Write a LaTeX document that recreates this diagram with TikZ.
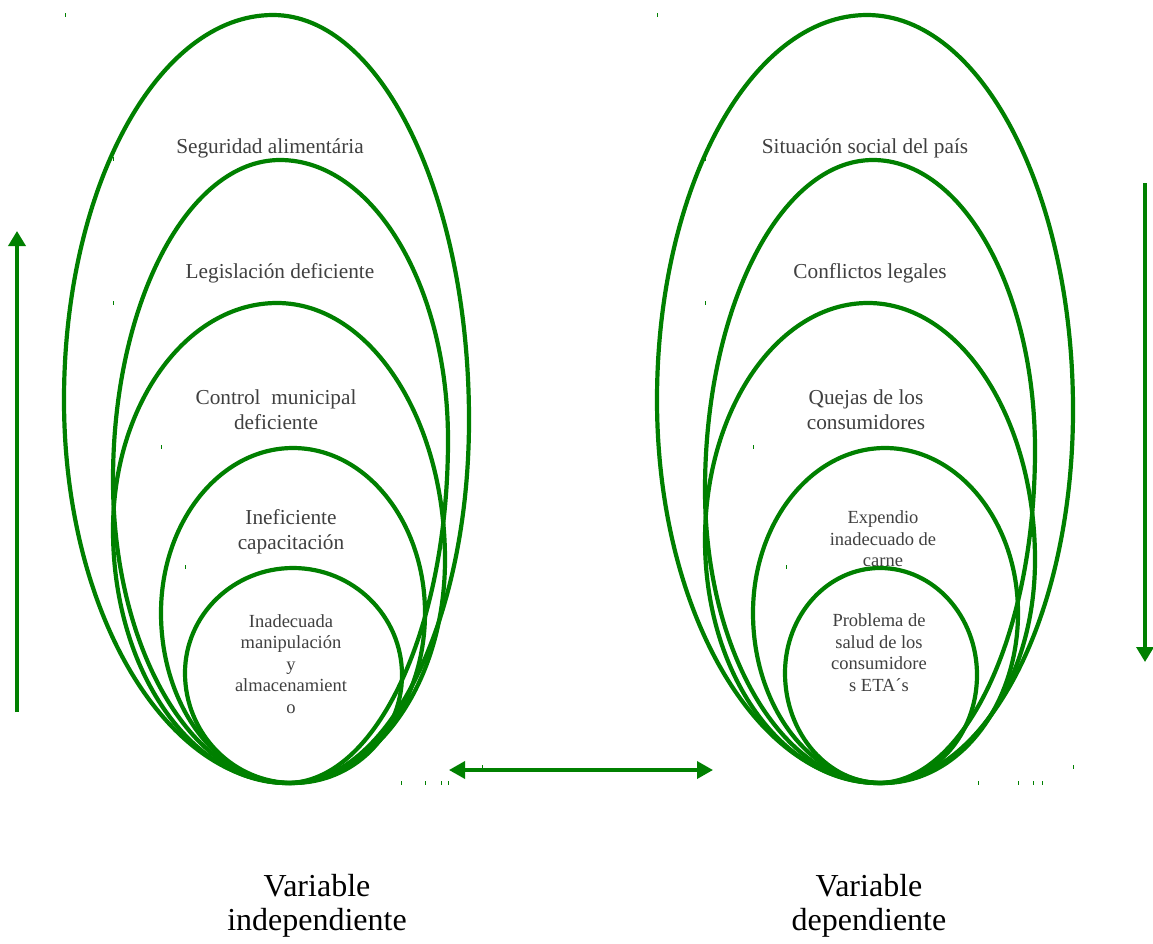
\documentclass[tikz,border=0pt]{standalone}
\usepackage{fontspec}
\setmainfont{Liberation Serif}
\usetikzlibrary{arrows.meta}
\definecolor{eg}{RGB}{0,128,0}
\definecolor{tx}{RGB}{64,64,64}
\tikzset{
  eggline/.style={draw=eg, line width=4.2pt},
  bigtxt/.style={text=tx, align=center, inner sep=0pt, font=\fontsize{21.3}{25}\selectfont},
  smalltxt/.style={text=tx, align=center, inner sep=0pt, font=\fontsize{18.5}{21.5}\selectfont},
  vartxt/.style={text=black, align=center, inner sep=0pt, font=\fontsize{32}{34}\selectfont},
  tipline/.style={draw=eg, line width=3.5pt, -{Triangle[width=17pt,length=15pt]}},
  dbline/.style={draw=eg, line width=3.5pt, {Triangle[width=17pt,length=16pt]}-{Triangle[width=17pt,length=16pt]}},
  tick/.style={draw=eg, line width=0.8pt}
}
% egg outline through top (#1,#2), right (#3,#4), bottom (#5,#6), left (#7,#8)
\newcommand\drawegg[8]{%
  \draw[eggline] (#1,#2)
   .. controls ({#1+0.5523*(#3-#1)},#2) and (#3,{#4-0.5523*(#4-#2)}) .. (#3,#4)
   .. controls (#3,{#4+0.5523*(#6-#4)}) and ({#5+0.5523*(#3-#5)},#6) .. (#5,#6)
   .. controls ({#5-0.5523*(#5-#7)},#6) and (#7,{#8+0.5523*(#6-#8)}) .. (#7,#8)
   .. controls (#7,{#8-0.5523*(#8-#2)}) and ({#1-0.5523*(#1-#7)},#2) .. cycle;}
\begin{document}
\begin{tikzpicture}[x=1pt,y=-1pt]
\useasboundingbox[fill=white] (0,0) rectangle (1153,943);

% left group
\drawegg{273}{15}{469}{420}{290}{783}{64}{400}
\drawegg{280}{160}{448}{440}{287}{783}{113}{480}
\drawegg{277}{303}{445}{560}{287}{783}{113}{530}
\drawegg{293}{448}{425}{613}{290}{783}{161}{613}
\drawegg{293}{568}{402}{675}{293}{783}{185}{673}

\node[bigtxt] (t1) at (270,148) {Seguridad alimentária};
\node[bigtxt] (t2) at (280,273) {Legislación deficiente};
\node[bigtxt] (t3) at (276,409.5) {Control\ \ municipal\\deficiente};
\node[bigtxt] (t4) at (291,531.5) {Ineficiente\\capacitación};
\node[smalltxt] (t5) at (291,664) {Inadecuada\\manipulación\\y\\almacenamient\\o};

% right group
\drawegg{867}{15}{1073}{410}{880}{783}{657}{400}
\drawegg{873}{160}{1035}{450}{878}{783}{705}{490}
\drawegg{868}{303}{1035}{560}{878}{783}{705}{540}
\drawegg{885}{448}{1018}{613}{883}{783}{753}{613}
\drawegg{880}{568}{977}{675}{881}{783}{785}{673}

\node[bigtxt] (s1) at (865,148) {Situación social del país};
\node[bigtxt] (s2) at (870,273) {Conflictos legales};
\node[bigtxt] (s3) at (866,409.5) {Quejas de los\\consumidores};
\node[smalltxt] (s4) at (883,539) {Expendio\\inadecuado de\\carne};
\node[smalltxt] (s5) at (879,652.5) {Problema de\\salud de los\\consumidore\\s ETA´s};

% bottom labels
\node[vartxt] (v1) at (317,906) {Variable\\independiente};
\node[vartxt] (v2) at (869,906) {Variable\\dependiente};

% arrows
\coordinate (la0) at (17,712);
\coordinate (la1) at (17,231);
\draw[tipline] (la0) -- (la1);
\coordinate (ra0) at (1145,183);
\coordinate (ra1) at (1145,662);
\draw[tipline] (ra0) -- (ra1);
\coordinate (ha) at (449,770);
\coordinate (hb) at (713,770);
\draw[dbline] (ha) -- (hb);

% small tick marks
\foreach \px/\py in {65/13,657/13,113/157,705/157,113/301,705/301,161/445,753/445,185/565,786/565,
  401/781,425/781,441/781,448/781,482/765,978/781,1018/781,1033/781,1042/781,1073/765}
  \draw[tick] (\px,\py) -- ++(0,4);
\end{tikzpicture}
\end{document}
